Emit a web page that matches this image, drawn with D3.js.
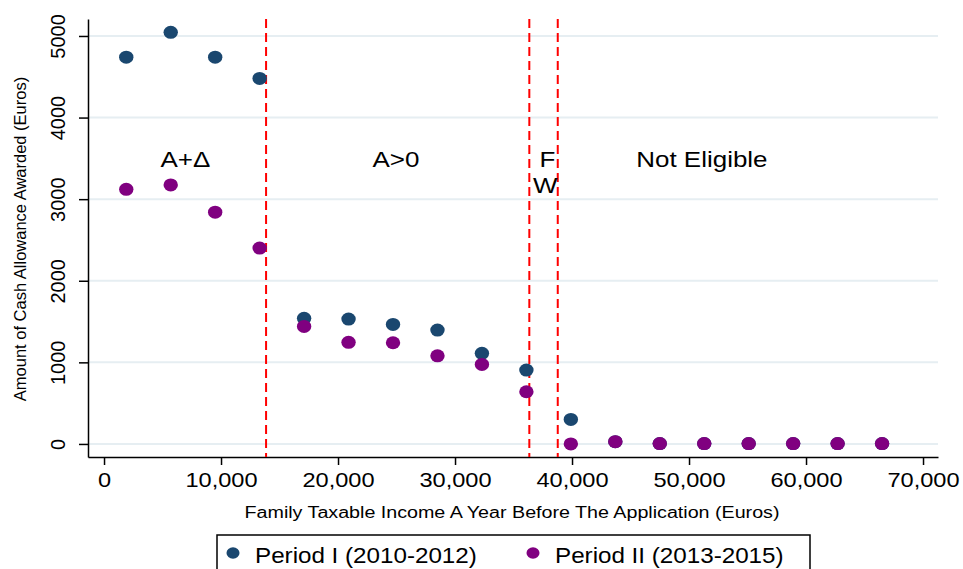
<!DOCTYPE html>
<html>
<head>
<meta charset="utf-8">
<script src="https://cdn.jsdelivr.net/npm/d3@7"></script>
<style>
  body { margin: 0; background: #fff; }
  svg { display: block; font-family: "Liberation Sans", Arial, sans-serif; }
</style>
</head>
<body>
<div id="chart"></div>
<script>
const income = [1900, 5700, 9500, 13300, 17100, 20900, 24700, 28500, 32300, 36100, 39900, 43700, 47500, 51300, 55100, 58900, 62700, 66500];
const period1 = [4740, 5045, 4740, 4480, 1540, 1530, 1465, 1395, 1110, 905, 300, 28, 5, 5, 5, 5, 5, 5];
const period2 = [3120, 3175, 2840, 2400, 1440, 1245, 1240, 1080, 975, 640, 0, 28, 5, 5, 5, 5, 5, 5];
const seriesNames = ["Period I (2010-2012)", "Period II (2013-2015)"];
const cutoffs = [13850, 36350, 38780];
const xTicks = [0, 10000, 20000, 30000, 40000, 50000, 60000, 70000];
const yTicks = [0, 1000, 2000, 3000, 4000, 5000];
const regionLabels = [
  { text: "A+\u0394", x: 6950, y: 3395 },
  { text: "A>0", x: 24950, y: 3395 },
  { text: "F", x: 37900, y: 3395 },
  { text: "W", x: 37700, y: 3075 },
  { text: "Not Eligible", x: 51100, y: 3395 },
];

const width = 963;
const height = 569;
const colors = ["#1a476f", "#800080"];
const sx = 1.18; // text in the picture is stretched sideways

const svg = d3.select("#chart").append("svg").attr("width", width).attr("height", height);

const x = d3.scaleLinear().domain([-1370, 71280]).range([88, 938]);
const y = d3.scaleLinear().domain([-160, 5208]).range([457, 19]);

// grid
svg
  .append("g")
  .selectAll("line")
  .data(yTicks)
  .join("line")
  .attr("x1", 88)
  .attr("x2", 938)
  .attr("y1", (d) => y(d))
  .attr("y2", (d) => y(d))
  .attr("stroke", "#e6eef2")
  .attr("stroke-width", 2);

const xAxis = (g) =>
  g
    .attr("transform", `translate(0,${y.range()[0]})`)
    .call(d3.axisBottom(x).tickValues(xTicks).tickFormat(d3.format(",")).tickSize(8).tickSizeOuter(0))
    .call((g) => g.select(".domain").attr("stroke-width", 1.5))
    .call((g) => g.selectAll(".tick line").attr("stroke-width", 1.5))
    .call((g) =>
      g
        .selectAll(".tick text")
        .attr("y", 30)
        .attr("dy", null)
        .attr("fill", "#000")
        .style("font-size", "20px")
        .attr("transform", `scale(${sx},1)`)
    );

const yAxis = (g) =>
  g
    .attr("transform", `translate(${x.range()[0]},0)`)
    .call(d3.axisLeft(y).tickValues(yTicks).tickFormat(d3.format("d")).tickSize(9).tickSizeOuter(0))
    .call((g) => g.select(".domain").attr("stroke-width", 1.5))
    .call((g) => g.selectAll(".tick line").attr("stroke-width", 1.5))
    .call((g) =>
      g
        .selectAll(".tick text")
        .attr("x", 0)
        .attr("y", -23)
        .attr("dy", null)
        .attr("text-anchor", "middle")
        .attr("transform", "rotate(-90)")
        .attr("fill", "#000")
        .style("font-size", "20px")
    );

svg.append("g").call(xAxis);
svg.append("g").call(yAxis);

// cutoff lines
svg
  .append("g")
  .selectAll("line")
  .data(cutoffs)
  .join("line")
  .attr("x1", (d) => x(d))
  .attr("x2", (d) => x(d))
  .attr("y1", y.range()[1])
  .attr("y2", y.range()[0])
  .attr("stroke", "#ff0000")
  .attr("stroke-width", 2)
  .attr("stroke-dasharray", "9,5");

// region labels
svg
  .append("g")
  .selectAll("text")
  .data(regionLabels)
  .join("text")
  .attr("transform", (d) => `translate(${x(d.x)},${y(d.y)}) scale(${sx},1)`)
  .attr("text-anchor", "middle")
  .style("font-size", "22px")
  .attr("fill", "#000")
  .text((d) => d.text);

// points
[period1, period2].forEach((values, i) => {
  svg
    .append("g")
    .selectAll("ellipse")
    .data(values)
    .join("ellipse")
    .attr("cx", (d, j) => x(income[j]))
    .attr("cy", (d) => y(d))
    .attr("rx", 7.2)
    .attr("ry", 6.5)
    .attr("fill", colors[i]);
});

// axis titles
svg
  .append("text")
  .attr("transform", `translate(20,239) rotate(-90)`)
  .attr("text-anchor", "middle")
  .attr("dy", "0.35em")
  .style("font-size", "16.5px")
  .text("Amount of Cash Allowance Awarded (Euros)");

svg
  .append("text")
  .attr("transform", `translate(512,518) scale(1.23,1)`)
  .attr("text-anchor", "middle")
  .style("font-size", "16px")
  .text("Family Taxable Income A Year Before The Application (Euros)");

// legend
svg
  .append("rect")
  .attr("x", 217)
  .attr("y", 535)
  .attr("width", 593)
  .attr("height", 60)
  .attr("fill", "none")
  .attr("stroke", "#000")
  .attr("stroke-width", 1.5);

const legend = svg
  .append("g")
  .selectAll("g")
  .data(seriesNames)
  .join("g")
  .attr("transform", (d, i) => `translate(${233 + i * 300},553)`);

legend
  .append("ellipse")
  .attr("rx", 6.5)
  .attr("ry", 5.8)
  .attr("fill", (d, i) => colors[i]);

legend
  .append("text")
  .attr("transform", `translate(22,10) scale(1.1,1)`)
  .style("font-size", "22px")
  .text((d) => d);
</script>
</body>
</html>
